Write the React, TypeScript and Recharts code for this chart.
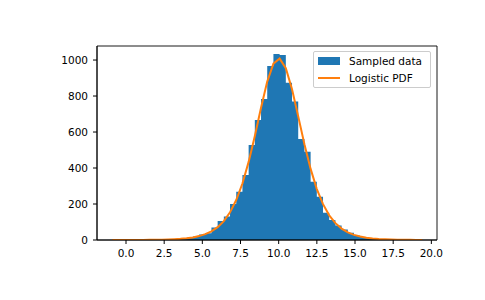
import React from 'react';
import {
  ComposedChart,
  Area,
  Line,
  XAxis,
  YAxis,
  Legend,
  ReferenceArea,
} from 'recharts';

// histogram of 10000 logistic samples (loc 10, scale 1), 50 bins
const histMin = -0.9;
const histMax = 19.4;
const binCount = 50;

const counts = [
  1, 0, 0, 0, 1, 1, 1, 2, 2, 4,
  6, 8, 12, 19, 30, 38, 70, 105, 130, 200,
  268, 361, 528, 667, 783, 967, 1033, 1028, 874, 769,
  561, 491, 324, 241, 152, 111, 80, 58, 40, 24,
  17, 11, 7, 5, 3, 2, 1, 1, 0, 1,
];

// scaled logistic pdf, sampled at the bin edges
const pdfCurve = [
  0.07, 0.11, 0.17, 0.25, 0.38, 0.57, 0.85, 1.3, 1.9, 2.9,
  4.3, 6.4, 9.7, 14.5, 21.7, 32.4, 48.2, 71.4, 105, 154,
  222, 314, 434, 578, 735, 880, 980, 1008, 955, 838,
  687, 532, 395, 283, 199, 137, 93.5, 63.3, 42.6, 28.6,
  19.2, 12.9, 8.6, 5.7, 3.8, 2.5, 1.7, 1.1, 0.75, 0.5,
  0.33,
];

const xTicks = [0, 2.5, 5, 7.5, 10, 12.5, 15, 17.5, 20];
const yTicks = [0, 200, 400, 600, 800, 1000];

const xDomain: [number, number] = [-1.9, 20.37];
const yDomain: [number, number] = [0, 1078];

const BLUE = '#1f77b4';
const ORANGE = '#ff7f0e';
const FONT = '"DejaVu Sans", sans-serif';

const binEdges = Array.from(
  { length: binCount + 1 },
  (_, i) => histMin + (i * (histMax - histMin)) / binCount
);

// step area needs the last count repeated on the closing edge
const data = binEdges.map((x, i) => ({
  x,
  count: counts[Math.min(i, binCount - 1)],
  pdf: pdfCurve[i],
}));

const tickStyle = { fontSize: 10.5, fill: '#000', fontFamily: FONT };

const LegendBox = () => (
  <div
    style={{
      width: 118,
      height: 37,
      boxSizing: 'border-box',
      border: '1px solid #cccccc',
      borderRadius: 2,
      background: 'rgba(255,255,255,0.8)',
      fontFamily: FONT,
      fontSize: 10.5,
      color: '#000',
      position: 'relative',
    }}
  >
    <div style={{ position: 'absolute', left: 4, top: 5, width: 22, height: 8, background: BLUE }} />
    <div style={{ position: 'absolute', left: 35, top: 2, lineHeight: '14px', whiteSpace: 'nowrap' }}>
      Sampled data
    </div>
    <div style={{ position: 'absolute', left: 4, top: 25, width: 22, height: 1.8, background: ORANGE }} />
    <div style={{ position: 'absolute', left: 35, top: 19, lineHeight: '14px', whiteSpace: 'nowrap' }}>
      Logistic PDF
    </div>
  </div>
);

export default function App() {
  return (
    <div style={{ position: 'absolute', left: 0, top: 0, width: 485, height: 300, background: '#fff' }}>
      <ComposedChart
        width={485}
        height={300}
        data={data}
        margin={{ top: 46, right: 48, bottom: 30, left: 57 }}
      >
        <XAxis
          dataKey="x"
          type="number"
          domain={xDomain}
          ticks={xTicks}
          allowDataOverflow
          tickFormatter={(v: number) => v.toFixed(1)}
          tick={tickStyle}
          tickSize={4}
          tickMargin={6}
          height={30}
          stroke="#000"
          tickLine={{ stroke: '#000' }}
          axisLine={{ stroke: '#000', strokeWidth: 0.9 }}
        />
        <YAxis
          type="number"
          domain={yDomain}
          ticks={yTicks}
          allowDataOverflow
          tick={tickStyle}
          tickSize={4}
          tickMargin={5}
          width={40}
          stroke="#000"
          tickLine={{ stroke: '#000' }}
          axisLine={{ stroke: '#000', strokeWidth: 0.9 }}
        />
        <Area
          dataKey="count"
          type="stepAfter"
          fill={BLUE}
          fillOpacity={1}
          stroke="none"
          isAnimationActive={false}
        />
        <Line
          dataKey="pdf"
          type="linear"
          stroke={ORANGE}
          strokeWidth={2}
          dot={false}
          activeDot={false}
          isAnimationActive={false}
        />
        <ReferenceArea
          x1={xDomain[0]}
          x2={xDomain[1]}
          y1={yDomain[0]}
          y2={yDomain[1]}
          fill="none"
          stroke="#000"
          strokeWidth={0.9}
          ifOverflow="visible"
        />
        <Legend
          align="center"
          verticalAlign="middle"
          content={<LegendBox />}
          wrapperStyle={{ left: 313, top: 51, width: 118 }}
        />
      </ComposedChart>
    </div>
  );
}
